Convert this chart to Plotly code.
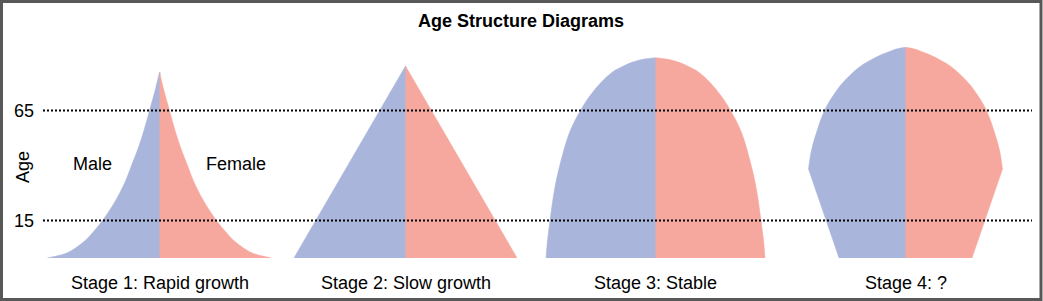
import plotly.graph_objects as go

# ---------------- data ----------------
stage_labels = ["Stage 1: Rapid growth", "Stage 2: Slow growth", "Stage 3: Stable", "Stage 4: ?"]

# age levels (years) and half-widths of the pyramid (population units) at each level
stage1_age = [-2, 0, 2.5, 6, 11, 15, 24, 33, 40, 47, 56, 65, 74, 82.5]
stage1_width = [112, 94, 84, 74, 64, 57, 44, 34, 28, 22, 15.5, 10, 4.5, 0]

stage2_age = [-2, 85.2]
stage2_width = [111.5, 0]

stage3_age = [-2, 6, 15, 29, 39.5, 55, 65, 72, 77.5, 82.5, 85, 87, 88.4, 89]
stage3_width = [109.5, 108, 105.5, 101, 96, 86, 75, 65, 55, 43, 33, 23, 11, 0]

# stage 4: straight lower flank, then a rounded top
stage4_low_age = [-2, 38.4]
stage4_low_width = [66.5, 97]
stage4_top_age = [38.4, 47, 55, 65, 72, 77.5, 84.8, 88.9, 91.1, 93, 93.7]
stage4_top_width = [97, 94, 89, 81, 72, 63, 46, 31, 20, 9, 0]

tick_ages = [65, 15]
tick_labels = ["65", "15"]
sex_labels = ["Male", "Female"]

# ---------------- layout / style ----------------
W, H = 1043, 301
centers = [159.5, 405.5, 655.5, 905.5]
MALE = "rgb(169,181,219)"
FEMALE = "rgb(246,168,159)"
FONT = "Liberation Sans, Arial, sans-serif"
y_range = [-21.59, 115.23]

def ypaper(px):
    return 1 - px / H

# each stage is made of one or more segments: (ages, widths, smooth?)
stages = [
    [(stage1_age, stage1_width, True)],
    [(stage2_age, stage2_width, False)],
    [(stage3_age, stage3_width, True)],
    [(stage4_low_age, stage4_low_width, False), (stage4_top_age, stage4_top_width, True)],
]

fig = go.Figure()
for segs, c in zip(stages, centers):
    for ages, widths, smooth in segs:
        # male half runs slightly under the female half so no seam shows
        for sign, col, overlap in [(-1, MALE, 0.8), (1, FEMALE, 0.0)]:
            fig.add_trace(go.Scatter(
                x=[c + overlap] * len(ages), y=ages, mode="lines",
                line=dict(width=0, color=col), hoverinfo="skip", showlegend=False,
            ))
            fig.add_trace(go.Scatter(
                x=[c + sign * w for w in widths], y=ages, mode="lines",
                line=dict(width=0.5, color=col, shape="spline" if smooth else "linear",
                          smoothing=1.0),
                fill="tonextx", fillcolor=col, hoverinfo="skip", showlegend=False,
            ))

# dotted reference lines
for a in tick_ages:
    fig.add_shape(type="line", xref="x", yref="y", x0=43, x1=1032, y0=a, y1=a,
                  line=dict(color="black", width=2, dash="2px,2px"), layer="above")

annotations = []
annotations.append(dict(text="<b>Age Structure Diagrams</b>", xref="paper", yref="paper",
                        x=521 / W, y=ypaper(21), xanchor="center", yanchor="middle",
                        showarrow=False, font=dict(family=FONT, size=18, color="black")))
for lab, c in zip(stage_labels, centers):
    annotations.append(dict(text=lab, xref="x", yref="paper", x=c, y=ypaper(283),
                            xanchor="center", yanchor="middle", showarrow=False,
                            font=dict(family=FONT, size=18, color="black")))
for a, t in zip(tick_ages, tick_labels):
    annotations.append(dict(text=t, xref="paper", yref="y", x=36 / W, y=a,
                            xanchor="right", yanchor="middle", showarrow=False,
                            font=dict(family=FONT, size=18, color="black")))
annotations.append(dict(text="Age", xref="paper", yref="paper", x=23 / W, y=ypaper(167),
                        xanchor="center", yanchor="middle", textangle=-90, showarrow=False,
                        font=dict(family=FONT, size=18, color="black")))
for lab, xp in zip(sex_labels, [92.5, 235.5]):
    annotations.append(dict(text=lab, xref="x", yref="paper", x=xp, y=ypaper(164),
                            xanchor="center", yanchor="middle", showarrow=False,
                            font=dict(family=FONT, size=18, color="black")))

# border
fig.add_shape(type="rect", xref="paper", yref="paper",
              x0=1.5 / W, x1=(W - 2) / W, y0=1.5 / H, y1=1 - 1.5 / H,
              line=dict(color="rgb(88,88,88)", width=3), fillcolor="rgba(0,0,0,0)", layer="above")

fig.update_layout(
    width=W, height=H, margin=dict(l=0, r=0, t=0, b=0),
    paper_bgcolor="white", plot_bgcolor="white",
    xaxis=dict(range=[0, W], visible=False, fixedrange=True),
    yaxis=dict(range=y_range, visible=False, fixedrange=True),
    annotations=annotations, showlegend=False,
)

fig.write_html("out.html", config={"displayModeBar": False})
